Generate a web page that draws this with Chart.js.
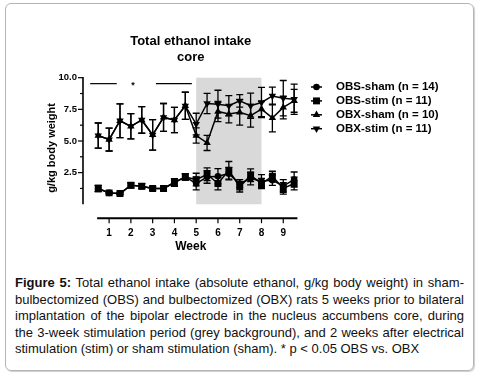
<!DOCTYPE html>
<html>
<head>
<meta charset="utf-8">
<script src="https://cdn.jsdelivr.net/npm/chart.js@4.4.1/dist/chart.umd.min.js"></script>
<style>
  html, body { margin: 0; padding: 0; background: #fff; }
  body { width: 482px; height: 376px; position: relative; overflow: hidden; font-family: "Liberation Sans", Arial, sans-serif; }
  .frame { position: absolute; left: 5px; top: 3px; width: 467px; height: 366px; border: 1px solid #b4b4b4; border-radius: 6px; box-shadow: 1px 1px 1px #cfcfcf; }
  #chart { position: absolute; left: 0; top: 0; }
  .caption { position: absolute; left: 15px; top: 275px; width: 449px; font-size: 13px; line-height: 16.6px; color: #111; }
  .caption div { text-align: justify; text-align-last: justify; }
  .caption div.last { text-align-last: left; }
</style>
</head>
<body>
<div class="frame"></div>
<canvas id="chart" width="482" height="262"></canvas>
<div class="caption">
  <div><b>Figure 5:</b> Total ethanol intake (absolute ethanol, g/kg body weight) in sham-</div>
  <div>bulbectomized (OBS) and bulbectomized (OBX) rats 5 weeks prior to bilateral</div>
  <div>implantation of the bipolar electrode in the nucleus accumbens core, during</div>
  <div>the 3-week stimulation period (grey background), and 2 weeks after electrical</div>
  <div class="last">stimulation (stim) or sham stimulation (sham). * p &lt; 0.05 OBS vs. OBX</div>
</div>
<script>
// data (mean, SEM), weeks in half-week steps
const weeks = [0.5, 1, 1.5, 2, 2.5, 3, 3.5, 4, 4.5, 5, 5.5, 6, 6.5, 7, 7.5, 8, 8.5, 9, 9.5];

const obsSham    = [1.25, 0.9, 0.85, 1.5, 1.43, 1.25, 1.25, 1.72, 2.16, 1.64, 2.16, 2.21, 2.42, 1.64, 2.03, 1.84, 1.9, 1.45, 1.95];
const obsShamErr = [0.25, 0.08, 0.08, 0.2, 0.2, 0.15, 0.2, 0.3, 0.25, 0.5, 0.5, 0.6, 0.5, 0.3, 0.5, 0.5, 0.4, 0.5, 0.6];
const obsStim    = [1.25, 0.9, 0.85, 1.5, 1.43, 1.25, 1.25, 1.72, 2.16, 1.95, 2.37, 1.64, 2.68, 1.37, 2.29, 1.64, 2.21, 1.25, 1.64];
const obsStimErr = [0.25, 0.08, 0.08, 0.2, 0.2, 0.15, 0.2, 0.3, 0.25, 0.5, 0.5, 0.5, 0.7, 0.4, 0.5, 0.4, 0.4, 0.45, 0.5];
const obxSham    = [5.43, 5.11, 6.6, 6.16, 6.66, 5.48, 6.86, 6.66, 7.78, 5.43, 4.85, 7.33, 7.13, 7.26, 7.0, 7.52, 6.82, 7.65, 8.17];
const obxShamErr = [0.99, 0.9, 1.33, 1.0, 1.05, 1.2, 1.1, 1.0, 1.07, 0.6, 0.6, 0.8, 0.7, 1.0, 0.9, 0.6, 1.1, 0.9, 0.9];
const obxStim    = [5.43, 5.11, 6.6, 6.16, 6.66, 5.48, 6.86, 6.66, 7.78, 6.34, 7.96, 7.91, 7.78, 8.17, 7.78, 8.04, 8.56, 8.38, 8.3];
const obxStimErr = [0.99, 0.9, 1.33, 1.0, 1.05, 1.2, 1.1, 1.0, 1.07, 0.85, 0.8, 1.1, 0.8, 0.5, 1.0, 1.2, 0.7, 1.4, 1.2];

const seriesNames = ['OBS-sham (n = 14)', 'OBS-stim (n = 11)', 'OBX-sham (n = 10)', 'OBX-stim (n = 11)'];
const weekTicks = [1, 2, 3, 4, 5, 6, 7, 8, 9];
const yTicks = [2.5, 5, 7.5, 10];
const yMinorTicks = [1.25, 3.75, 6.25, 8.75];
const stimWeeks = [5, 8];           // grey band
const sigBars = [[0.13, 1.35], [3.15, 4.8]];
const sigStarWeek = 2.1;
const sigLevel = 9.53;

const FONT = '"Liberation Sans", Arial, sans-serif';
Chart.defaults.font.family = FONT;
Chart.defaults.color = '#000';

const markers = [
  { style: 'circle', rot: 0, r: 3.3 },
  { style: 'rect', rot: 0, r: 4.9 },
  { style: 'triangle', rot: 0, r: 4.3 },
  { style: 'triangle', rot: 180, r: 4.3 }
];
const values = [obsSham, obsStim, obxSham, obxStim];
const errors = [obsShamErr, obsStimErr, obxShamErr, obxStimErr];

const datasets = values.map((vals, i) => ({
  label: seriesNames[i],
  data: vals.map((v, j) => ({ x: weeks[j], y: v })),
  borderColor: '#000',
  backgroundColor: '#000',
  borderWidth: 1.5,
  pointStyle: markers[i].style,
  pointRotation: markers[i].rot,
  pointRadius: markers[i].r,
  pointBorderWidth: 0,
  tension: 0,
  fill: false
}));

function drawMarker(ctx, m, x, y) {
  ctx.beginPath();
  if (m.style === 'circle') {
    ctx.arc(x, y, m.r, 0, Math.PI * 2);
  } else if (m.style === 'rect') {
    const h = m.r * Math.SQRT1_2;
    ctx.rect(x - h, y - h, 2 * h, 2 * h);
  } else {
    let rad = m.rot * Math.PI / 180;
    for (let k = 0; k < 3; k++) {
      const px = x + Math.sin(rad) * m.r, py = y - Math.cos(rad) * m.r;
      k ? ctx.lineTo(px, py) : ctx.moveTo(px, py);
      rad += 2 * Math.PI / 3;
    }
    ctx.closePath();
  }
  ctx.fill();
}

const decor = {
  id: 'decor',
  beforeDatasetsDraw(chart) {
    const { ctx, chartArea, scales: { x, y } } = chart;
    ctx.save();
    // stimulation period
    const bx0 = x.getPixelForValue(stimWeeks[0]), bx1 = x.getPixelForValue(stimWeeks[1]);
    const by0 = y.getPixelForValue(10), by1 = y.getPixelForValue(0);
    ctx.fillStyle = '#d9d9d9';
    ctx.fillRect(bx0, by0, bx1 - bx0, by1 - by0);

    ctx.strokeStyle = '#000';
    // y axis (detached from x axis)
    const ax = chartArea.left;
    ctx.lineWidth = 1.6;
    ctx.beginPath();
    ctx.moveTo(ax, y.getPixelForValue(0));
    ctx.lineTo(ax, y.getPixelForValue(10) - 0.8);
    ctx.stroke();
    ctx.lineWidth = 1.2;
    yTicks.forEach(v => { const py = y.getPixelForValue(v); ctx.beginPath(); ctx.moveTo(ax - 5, py); ctx.lineTo(ax, py); ctx.stroke(); });
    yMinorTicks.forEach(v => { const py = y.getPixelForValue(v); ctx.beginPath(); ctx.moveTo(ax - 3, py); ctx.lineTo(ax, py); ctx.stroke(); });

    // x axis
    const ay = chartArea.bottom;
    ctx.lineWidth = 2;
    ctx.beginPath();
    ctx.moveTo(x.getPixelForValue(0.45), ay);
    ctx.lineTo(x.getPixelForValue(9.65), ay);
    ctx.stroke();
    ctx.lineWidth = 1.2;
    weekTicks.forEach(v => { const px = x.getPixelForValue(v); ctx.beginPath(); ctx.moveTo(px, ay); ctx.lineTo(px, ay + 5); ctx.stroke(); });

    // error bars
    ctx.lineWidth = 1.3;
    errors.forEach((errs, i) => {
      values[i].forEach((v, j) => {
        const px = x.getPixelForValue(weeks[j]);
        const top = y.getPixelForValue(v + errs[j]), bot = y.getPixelForValue(v - errs[j]);
        ctx.beginPath();
        ctx.moveTo(px, top); ctx.lineTo(px, bot);
        ctx.moveTo(px - 3.5, top); ctx.lineTo(px + 3.5, top);
        ctx.moveTo(px - 3.5, bot); ctx.lineTo(px + 3.5, bot);
        ctx.stroke();
      });
    });
    ctx.restore();
  },
  afterDraw(chart) {
    const { ctx, scales: { x, y } } = chart;
    ctx.save();
    // significance lines
    ctx.strokeStyle = '#000';
    ctx.lineWidth = 1.2;
    const sy = y.getPixelForValue(sigLevel);
    sigBars.forEach(([a, b]) => { ctx.beginPath(); ctx.moveTo(x.getPixelForValue(a), sy); ctx.lineTo(x.getPixelForValue(b), sy); ctx.stroke(); });
    ctx.fillStyle = '#000';
    ctx.font = 'bold 9px ' + FONT;
    ctx.textAlign = 'center';
    ctx.textBaseline = 'middle';
    ctx.fillText('*', x.getPixelForValue(sigStarWeek), sy + 2);

    // legend
    ctx.font = 'bold 11.5px ' + FONT;
    ctx.textAlign = 'left';
    seriesNames.forEach((name, i) => {
      const ly = 87 + i * 13.9;
      ctx.lineWidth = 1.5;
      ctx.beginPath(); ctx.moveTo(311, ly); ctx.lineTo(322, ly); ctx.stroke();
      drawMarker(ctx, markers[i], 316.5, ly);
      ctx.fillText(name, 336, ly);
    });
    ctx.restore();
  }
};

new Chart(document.getElementById('chart'), {
  type: 'line',
  data: { datasets },
  options: {
    responsive: false,
    animation: false,
    devicePixelRatio: 1,
    layout: { padding: { left: 45.3, right: 183.5, top: 32.5, bottom: 12 } },
    plugins: {
      legend: { display: false },
      tooltip: { enabled: false },
      title: {
        display: true,
        fullSize: false,
        text: ['Total ethanol intake', 'core'],
        color: '#000',
        font: { size: 13, weight: 'bold', lineHeight: 1.3 },
        padding: { top: 0, bottom: 11.4 }
      }
    },
    scales: {
      x: {
        type: 'linear',
        min: -0.2,
        max: 9.7,
        grid: { display: false, drawTicks: false, tickLength: 0 },
        border: { display: false },
        afterBuildTicks: s => { s.ticks = weekTicks.map(v => ({ value: v })); },
        ticks: { padding: 9, color: '#000', font: { size: 10, weight: 'bold' }, callback: v => String(v) },
        title: { display: true, text: 'Week', color: '#000', font: { size: 12, weight: 'bold' }, padding: { top: -8.4, bottom: -4.2 } }
      },
      y: {
        min: -1.1,
        max: 10,
        grid: { display: false, drawTicks: false, tickLength: 0 },
        border: { display: false },
        afterBuildTicks: s => { s.ticks = yTicks.map(v => ({ value: v })); },
        ticks: { padding: 6, color: '#000', font: { size: 9.5, weight: 'bold' }, callback: v => v.toFixed(1) },
        title: { display: true, text: 'g/kg body weight', color: '#000', font: { size: 11, weight: 'bold' }, padding: { top: 0, bottom: -6 } }
      }
    }
  },
  plugins: [decor]
});
</script>
</body>
</html>
